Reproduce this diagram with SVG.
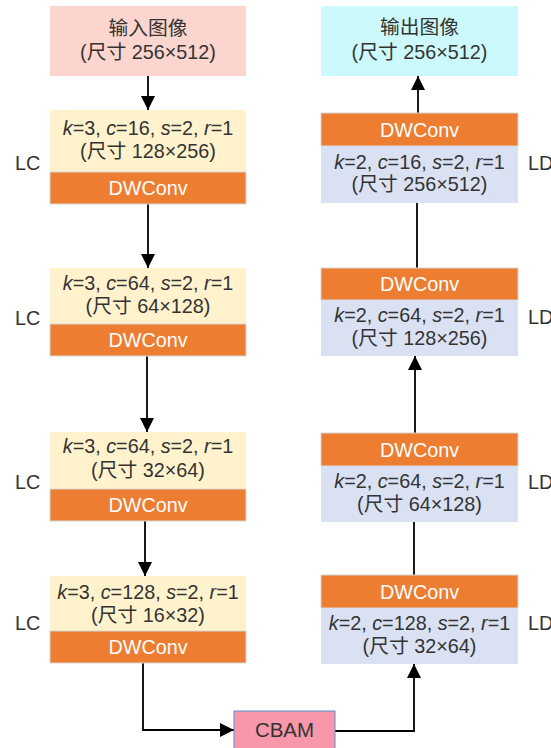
<svg xmlns="http://www.w3.org/2000/svg" width="551" height="748" viewBox="0 0 551 748">
<style>
text{font-family:"Liberation Sans","Noto Sans CJK SC",sans-serif;font-size:19.8px;fill:#333;text-anchor:middle}
.w{fill:#fff}
.lab{text-anchor:start}
.i{font-style:italic}
.lc{fill:#fff2cc}
.ld{fill:#dae1f3}
.dw{fill:#ed7d31;stroke:#d6d6d6;stroke-width:1}
.ln{fill:none;stroke:#000;stroke-width:1.8}
</style>
<defs>
<marker id="ah" viewBox="0 0 14 14" refX="14" refY="7" markerWidth="14" markerHeight="14" markerUnits="userSpaceOnUse" orient="auto">
<path d="M0,0L14,7L0,14Z" fill="#000"/>
</marker>
</defs>
<rect width="551" height="748" fill="#fff"/>
<g id="connectors">
<line class="ln" x1="148" y1="76" x2="148" y2="110" marker-end="url(#ah)"/>
<line class="ln" x1="148" y1="204" x2="148" y2="268" marker-end="url(#ah)"/>
<line class="ln" x1="147" y1="356" x2="147" y2="432" marker-end="url(#ah)"/>
<line class="ln" x1="145" y1="521" x2="145" y2="576" marker-end="url(#ah)"/>
<polyline class="ln" points="143,663 143,730 234,730" marker-end="url(#ah)"/>
<polyline class="ln" points="335,731 414,731 414,664" marker-end="url(#ah)"/>
<line class="ln" x1="414" y1="575" x2="414" y2="522"/>
<line class="ln" x1="415" y1="433" x2="415" y2="356" marker-end="url(#ah)"/>
<line class="ln" x1="417" y1="268" x2="417" y2="203"/>
<line class="ln" x1="418" y1="113" x2="418" y2="76" marker-end="url(#ah)"/>
</g>
<g id="input">
<rect x="50" y="6" width="196" height="70" fill="#fcd5ce"/>
<text x="148" y="35">输入图像</text>
<text x="148" y="59">(尺寸 256×512)</text>
</g>
<g id="output">
<rect x="321" y="6" width="197" height="70" fill="#ccf9fb"/>
<text x="419.5" y="34">输出图像</text>
<text x="419.5" y="59">(尺寸 256×512)</text>
</g>
<g id="lc1">
<rect class="lc" x="50" y="110" width="196" height="62"/>
<rect class="dw" x="50" y="172" width="196" height="32"/>
<text x="148" y="135"><tspan class="i">k</tspan>=3, <tspan class="i">c</tspan>=16, <tspan class="i">s</tspan>=2, <tspan class="i">r</tspan>=1</text>
<text x="148" y="158">(尺寸 128×256)</text>
<text class="w" x="148" y="195">DWConv</text>
<text class="lab" x="15" y="170">LC</text>
</g>
<g id="lc2">
<rect class="lc" x="50" y="268" width="196" height="56"/>
<rect class="dw" x="50" y="324" width="196" height="32"/>
<text x="148" y="290"><tspan class="i">k</tspan>=3, <tspan class="i">c</tspan>=64, <tspan class="i">s</tspan>=2, <tspan class="i">r</tspan>=1</text>
<text x="148" y="313">(尺寸 64×128)</text>
<text class="w" x="148" y="347">DWConv</text>
<text class="lab" x="15" y="325">LC</text>
</g>
<g id="lc3">
<rect class="lc" x="50" y="432" width="196" height="57"/>
<rect class="dw" x="50" y="489" width="196" height="32"/>
<text x="148" y="453"><tspan class="i">k</tspan>=3, <tspan class="i">c</tspan>=64, <tspan class="i">s</tspan>=2, <tspan class="i">r</tspan>=1</text>
<text x="148" y="477">(尺寸 32×64)</text>
<text class="w" x="148" y="512">DWConv</text>
<text class="lab" x="15" y="489">LC</text>
</g>
<g id="lc4">
<rect class="lc" x="50" y="576" width="196" height="55"/>
<rect class="dw" x="50" y="631" width="196" height="32"/>
<text x="148" y="599"><tspan class="i">k</tspan>=3, <tspan class="i">c</tspan>=128, <tspan class="i">s</tspan>=2, <tspan class="i">r</tspan>=1</text>
<text x="148" y="622">(尺寸 16×32)</text>
<text class="w" x="148" y="654">DWConv</text>
<text class="lab" x="15" y="630">LC</text>
</g>
<g id="ld1">
<rect class="dw" x="321" y="113" width="197" height="33"/>
<rect class="ld" x="321" y="146" width="197" height="57"/>
<text class="w" x="419.5" y="137">DWConv</text>
<text x="419.5" y="169"><tspan class="i">k</tspan>=2, <tspan class="i">c</tspan>=16, <tspan class="i">s</tspan>=2, <tspan class="i">r</tspan>=1</text>
<text x="419.5" y="191">(尺寸 256×512)</text>
<text class="lab" x="528" y="170">LD</text>
</g>
<g id="ld2">
<rect class="dw" x="321" y="268" width="197" height="32"/>
<rect class="ld" x="321" y="300" width="197" height="56"/>
<text class="w" x="419.5" y="291">DWConv</text>
<text x="419.5" y="322"><tspan class="i">k</tspan>=2, <tspan class="i">c</tspan>=64, <tspan class="i">s</tspan>=2, <tspan class="i">r</tspan>=1</text>
<text x="419.5" y="345">(尺寸 128×256)</text>
<text class="lab" x="528" y="324">LD</text>
</g>
<g id="ld3">
<rect class="dw" x="321" y="433" width="197" height="33"/>
<rect class="ld" x="321" y="466" width="197" height="56"/>
<text class="w" x="419.5" y="457">DWConv</text>
<text x="419.5" y="488"><tspan class="i">k</tspan>=2, <tspan class="i">c</tspan>=64, <tspan class="i">s</tspan>=2, <tspan class="i">r</tspan>=1</text>
<text x="419.5" y="511">(尺寸 64×128)</text>
<text class="lab" x="528" y="489">LD</text>
</g>
<g id="ld4">
<rect class="dw" x="321" y="575" width="197" height="33"/>
<rect class="ld" x="321" y="608" width="197" height="56"/>
<text class="w" x="419.5" y="599">DWConv</text>
<text x="419.5" y="630"><tspan class="i">k</tspan>=2, <tspan class="i">c</tspan>=128, <tspan class="i">s</tspan>=2, <tspan class="i">r</tspan>=1</text>
<text x="419.5" y="653">(尺寸 32×64)</text>
<text class="lab" x="528" y="630">LD</text>
</g>
<g id="cbam">
<rect x="234" y="711" width="101" height="45" fill="#f797a9" stroke="#5b8fd0" stroke-width="1"/>
<text x="284.5" y="737" style="font-size:20.5px">CBAM</text>
</g>
</svg>
